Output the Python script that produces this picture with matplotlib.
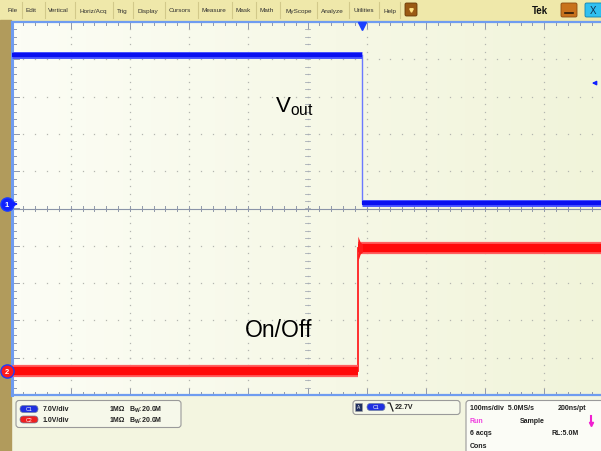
import matplotlib
matplotlib.use("Agg")
import matplotlib.pyplot as plt
import matplotlib.transforms as mtrans
from matplotlib.patches import FancyBboxPatch, Rectangle
import numpy as np

plt.rcParams["font.family"] = ["Liberation Sans", "DejaVu Sans"]

#-------------------------------------------------------------------------------
# Scope settings and waveform levels

ch1_scale = 7.0      # V/div
ch2_scale = 1.0      # V/div
ch1_offset = 0.12    # div, position of the ch1 ground marker
ch2_offset = -4.36   # div, position of the ch2 ground marker
trig_level = 22.7    # V on ch1
trig_time = 92       # ms

# Vout (ch1): high, then drops at turn-off
ch1_time = [-500, 92, 92, 500]
ch1_volts = [28.0, 28.0, 0.2, 0.2]

# On/Off (ch2): low, then rises to 3.3 V
ch2_time = [-500, 85, 85, 500]
ch2_volts = [0.0, 0.0, 3.3, 3.3]

# ringing envelope just after the ch2 edge
ring_time = [85, 86.5, 89, 93]
ring_upper = [3.62, 3.56, 3.46, 3.4]
ring_lower = [2.96, 3.02, 3.14, 3.2]

menu_items = ["File", "Edit", "Vertical", "Horiz/Acq", "Trig", "Display", "Cursors",
              "Measure", "Mask", "Math", "MyScope", "Analyze", "Utilities", "Help"]

#-------------------------------------------------------------------------------

def to_div(volts, scale, offset):
  return offset + np.asarray(volts) / scale

W, H = 601, 452
fig = plt.figure(figsize=(W / 100, H / 100), dpi=100)

# Background chrome, in pixel coordinates
bg = fig.add_axes([0, 0, 1, 1], zorder=0)
bg.set_xlim(0, W)
bg.set_ylim(H, 0)
bg.axis("off")
bg.add_patch(Rectangle((0, 0), W, H, color="#f3f5e0"))
bg.add_patch(Rectangle((0, 0), W, 21, color="#efe8aa"))
bg.add_patch(Rectangle((0, 21), 11, H - 21, color="#b19b5c"))

# Screen / graticule
x0, x1 = 11.5, 603.5
y0, y1 = 23, 396
scr = fig.add_axes([x0 / W, 1 - y1 / H, (x1 - x0) / W, (y1 - y0) / H], zorder=1)
scr.set_xlim(-500, 500)
scr.set_ylim(-5, 5)
scr.axis("off")

grad = np.linspace(0, 1, 64)[None, :] * np.ones((8, 1))
cmap = matplotlib.colors.LinearSegmentedColormap.from_list("scr", ["#fcfdf5", "#f1f4da"])
scr.imshow(grad, extent=(-500, 500, -5, 5), aspect="auto", cmap=cmap, zorder=0)

dot_col = "#b4b6b0"
minor_x = np.arange(-500, 501, 20)
minor_y = np.arange(-5, 5.01, 0.2)
for gx in range(-400, 401, 100):
  scr.plot(np.full(minor_y.size, gx), minor_y, ls="none", marker="s", ms=0.9,
           color=dot_col, mec="none", zorder=1)
for gy in range(-4, 5):
  scr.plot(minor_x, np.full(minor_x.size, gy), ls="none", marker="s", ms=0.9,
           color=dot_col, mec="none", zorder=1)

# centre lines with ticks
tick_col = "#9098aa"
scr.axhline(0, color="#8a94a8", lw=0.8, zorder=1)
for tx in minor_x:
  scr.plot([tx, tx], [-0.08, 0.08], color=tick_col, lw=0.7, zorder=1)
for ty in minor_y:
  scr.plot([-5, 5], [ty, ty], color="#a8aeb6", lw=0.6, zorder=1)

# border ticks
for tx in minor_x:
  ln = 0.16 if tx % 100 == 0 else 0.09
  scr.plot([tx, tx], [5, 5 - ln], color=tick_col, lw=0.7, zorder=1)
  scr.plot([tx, tx], [-5, -5 + ln], color=tick_col, lw=0.7, zorder=1)
for ty in minor_y:
  ln = 12 if abs(ty - round(ty)) < 1e-6 else 7
  scr.plot([-500, -500 + ln], [ty, ty], color=tick_col, lw=0.7, zorder=1)
scr.plot([-500, -500], [-5, 5], color="#6f9cf0", lw=2.2, zorder=2, clip_on=False)
scr.plot([-500, 500], [5, 5], color="#6f9cf0", lw=1.6, zorder=2, clip_on=False)
scr.plot([-500, 500], [-5, -5], color="#6f9cf0", lw=1.6, zorder=2, clip_on=False)

# Waveforms
c1 = to_div(ch1_volts, ch1_scale, ch1_offset)
c2 = to_div(ch2_volts, ch2_scale, ch2_offset)

scr.plot(ch1_time[1:3], c1[1:3], color="#6b78ff", lw=1.0, zorder=3)
for seg in (slice(0, 2), slice(2, 4)):
  scr.plot(ch1_time[seg], c1[seg], color="#4a55ff", lw=5.0, solid_capstyle="butt", zorder=3)
  scr.plot(ch1_time[seg], c1[seg], color="#0a10f0", lw=3.0, solid_capstyle="butt", zorder=3)

scr.plot(ch2_time[1:3], c2[1:3], color="#ff2020", lw=1.3, zorder=3)
for seg in (slice(0, 2), slice(2, 4)):
  scr.plot(ch2_time[seg], c2[seg], color="#ff6060", lw=8.8, solid_capstyle="butt", zorder=3)
  scr.plot(ch2_time[seg], c2[seg], color="#ff0a0a", lw=6.0, solid_capstyle="butt", zorder=3)
scr.fill_between(ring_time, to_div(ring_lower, ch2_scale, ch2_offset),
                 to_div(ring_upper, ch2_scale, ch2_offset), color="#ff1a1a", lw=0, zorder=3)

# Markers: ground indicators, trigger position and level
blend = mtrans.blended_transform_factory(bg.transData, scr.transData)
for num, off, face in ((1, ch1_offset, "#1020ff"), (2, ch2_offset, "#ff1a1a")):
  scr.plot([7], [off], transform=blend, marker="o", ms=9.5, mfc=face, mec="#1a3cff",
           mew=1.0, clip_on=False, zorder=5)
  scr.text(7, off, str(num), transform=blend, ha="center", va="center", color="white",
           fontsize=5.5, fontweight="bold", clip_on=False, zorder=6)
scr.annotate("", xy=(21, ch1_offset), xytext=(11, ch1_offset),
             xycoords=blend, textcoords=blend,
             arrowprops=dict(arrowstyle="-|>", color="#1020ff", lw=1.2, mutation_scale=5),
             zorder=6, annotation_clip=False)
lvl = to_div(trig_level, ch1_scale, ch1_offset)
scr.annotate("", xy=(589, lvl), xytext=(599, lvl), xycoords=blend, textcoords=blend,
             arrowprops=dict(arrowstyle="-|>", color="#1020ff", lw=1.0, mutation_scale=6),
             zorder=6, annotation_clip=False)
scr.plot([trig_time], [5 - 0.12], marker="v", ms=6, color="#1a40ff", clip_on=False, zorder=6)

# Labels on screen
bg2 = fig.add_axes([0, 0, 1, 1], zorder=3)
bg2.set_xlim(0, W)
bg2.set_ylim(H, 0)
bg2.axis("off")
bg2.text(275, 112, r"V$_{\mathregular{out}}$", fontsize=16, color="black", va="baseline")
bg2.text(245, 337, "On/Off", fontsize=16.5, color="black", va="baseline")

# Menu bar
menu_x = [8, 26, 48, 79, 117, 137, 169, 202, 236, 259, 285, 321, 354, 384]
seps = [22, 45, 75, 113, 133, 165, 198, 232, 256, 280, 317, 349, 379, 400]
for name, mx in zip(menu_items, menu_x):
  bg2.text(mx, 11, name, fontsize=4.6, color="#303030", va="center", ha="left")
for sx in seps:
  bg2.plot([sx, sx], [3, 19], color="#d2c98a", lw=0.8)
bg2.add_patch(FancyBboxPatch((405, 4), 12, 13, boxstyle="round,pad=0,rounding_size=1.5",
                             fc="#9a5a14", ec="#6a3a08", lw=0.6))
bg2.plot([411], [11], marker="v", ms=2.5, color="#ffe080")
bg2.text(532, 11, "Tek", fontsize=7, fontweight="bold", color="#101010", va="center")
bg2.add_patch(FancyBboxPatch((561, 4), 16, 14, boxstyle="round,pad=0,rounding_size=1.5",
                             fc="#c8721c", ec="#8a4a10", lw=0.6))
bg2.plot([565, 573], [14, 14], color="#2a1a08", lw=1.2)
bg2.add_patch(FancyBboxPatch((585, 4), 18, 14, boxstyle="round,pad=0,rounding_size=1.5",
                             fc="#30c0f0", ec="#1080b0", lw=0.6))
bg2.text(593, 11.5, "X", fontsize=7, color="#103050", ha="center", va="center")

# Bottom info panel
def pill(x, y, color, label):
  bg2.add_patch(FancyBboxPatch((x, y - 3.5), 18, 7, boxstyle="round,pad=0,rounding_size=3.5",
                               fc=color, ec="#7080a0", lw=0.5))
  bg2.text(x + 9, y, label, fontsize=3.8, color="white", ha="center", va="center")

bg2.add_patch(FancyBboxPatch((16, 401.5), 165, 27, boxstyle="round,pad=0,rounding_size=3",
                             fc="#f6f8ea", ec="#9a9a9a", lw=0.8))
pill(20, 410, "#2030e0", "C1")
pill(20, 420.5, "#ee2020", "C2")
info_rows = [("7.0V/div", 410), ("1.0V/div", 420.5)]
for txt, ty in info_rows:
  bg2.text(43, ty, txt, fontsize=5, fontweight="bold", color="#202020", va="center")
  bg2.text(110, ty, "1M\u03a9", fontsize=5, fontweight="bold", color="#202020", va="center")
  bg2.text(129, ty, r"B$_{\mathregular{W}}$:20.0M", fontsize=5, fontweight="bold",
           color="#202020", va="center")

bg2.add_patch(FancyBboxPatch((353, 401.5), 107, 14, boxstyle="round,pad=0,rounding_size=3",
                             fc="#f6f8ea", ec="#9a9a9a", lw=0.8))
bg2.add_patch(Rectangle((355, 404), 7, 8, fc="#203060", ec="#a0a0a0", lw=0.4))
bg2.text(358.5, 408, "A", fontsize=3.5, color="white", ha="center", va="center")
pill(367, 408, "#2030e0", "C1")
bg2.plot([388, 390, 393], [404, 404, 412], color="#202020", lw=0.9)
bg2.text(395, 408, "22.7V", fontsize=5, fontweight="bold", color="#202020", va="center")

bg2.add_patch(FancyBboxPatch((466, 401.5), 140, 60, boxstyle="round,pad=0,rounding_size=3",
                             fc="#fbfcf6", ec="#9a9a9a", lw=0.8))
bg2.text(470, 409, "100ms/div  5.0MS/s", fontsize=5, fontweight="bold", color="#202020", va="center")
bg2.text(558, 409, "200ns/pt", fontsize=5, fontweight="bold", color="#202020", va="center")
bg2.text(470, 421.5, "Run", fontsize=5, fontweight="bold", color="#f040e0", va="center")
bg2.text(520, 421.5, "Sample", fontsize=5, fontweight="bold", color="#202020", va="center")
bg2.plot([591, 591], [417, 424], color="#f020d0", lw=1.5)
bg2.plot([591], [425], marker="v", ms=3, color="#f020d0")
bg2.text(470, 434, "6 acqs", fontsize=5, fontweight="bold", color="#202020", va="center")
bg2.text(552, 434, "RL:5.0M", fontsize=5, fontweight="bold", color="#202020", va="center")
bg2.text(470, 447, "Cons", fontsize=5, fontweight="bold", color="#202020", va="center")

fig.savefig("out.png", dpi=100)
plt.close(fig)
